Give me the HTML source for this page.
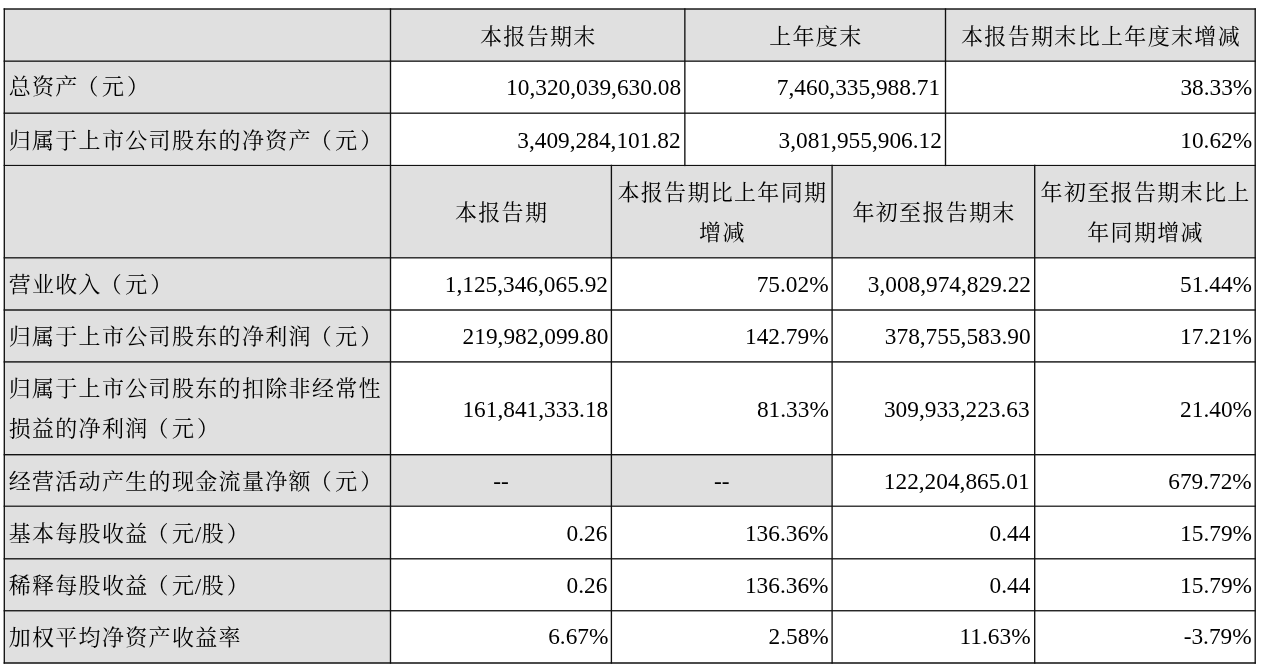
<!DOCTYPE html>
<html lang="zh-CN"><head><meta charset="utf-8"><title>主要会计数据和财务指标</title>
<style>
html,body{margin:0;padding:0;background:#fff;}
body{width:1269px;height:671px;position:relative;overflow:hidden;}
svg.g{position:absolute;left:0;top:0;}
.t{position:absolute;left:0;top:0;width:1269px;height:671px;will-change:transform;}
.c{position:absolute;display:flex;align-items:center;box-sizing:border-box;
 font-family:"Liberation Serif","Noto Serif CJK SC",serif;font-size:23.33px;line-height:40.3px;color:#000;white-space:nowrap;}
.c.l{justify-content:flex-start;}
.c.r{justify-content:flex-end;}
.c.m{justify-content:center;text-align:center;}
.k{font-family:"Noto Serif CJK SC",serif;font-size:22.0px;font-weight:400;letter-spacing:1.33px;position:relative;left:0.66px;top:-1px;line-height:0;}
.lp{position:relative;left:-2.2px;}
.rp{position:relative;left:1.6px;}
.c.m .k{left:0.66px;}
</style></head><body>
<svg class="g" width="1269" height="671" viewBox="0 0 1269 671">
<rect x="4.30" y="9.00" width="386.20" height="52.20" fill="#e0e0e0"/>
<rect x="390.50" y="9.00" width="864.70" height="52.20" fill="#e0e0e0"/>
<rect x="4.30" y="61.20" width="386.20" height="52.00" fill="#e0e0e0"/>
<rect x="4.30" y="113.20" width="386.20" height="52.20" fill="#e0e0e0"/>
<rect x="4.30" y="165.40" width="386.20" height="92.30" fill="#e0e0e0"/>
<rect x="390.50" y="165.40" width="864.70" height="92.30" fill="#e0e0e0"/>
<rect x="4.30" y="257.70" width="386.20" height="52.30" fill="#e0e0e0"/>
<rect x="4.30" y="310.00" width="386.20" height="51.80" fill="#e0e0e0"/>
<rect x="4.30" y="361.80" width="386.20" height="92.80" fill="#e0e0e0"/>
<rect x="4.30" y="454.60" width="386.20" height="51.70" fill="#e0e0e0"/>
<rect x="390.50" y="454.60" width="441.60" height="51.70" fill="#e0e0e0"/>
<rect x="4.30" y="506.30" width="386.20" height="52.40" fill="#e0e0e0"/>
<rect x="4.30" y="558.70" width="386.20" height="51.90" fill="#e0e0e0"/>
<rect x="4.30" y="610.60" width="386.20" height="52.20" fill="#e0e0e0"/>
<rect x="3.62" y="8.290" width="1252.25" height="1.42" fill="#111"/>
<rect x="3.62" y="60.500" width="1252.25" height="1.3" fill="#111"/>
<rect x="3.62" y="112.525" width="1252.25" height="1.31" fill="#111"/>
<rect x="3.62" y="164.890" width="1252.25" height="1.1" fill="#111"/>
<rect x="3.62" y="257.170" width="1252.25" height="1.3" fill="#111"/>
<rect x="3.62" y="309.280" width="1252.25" height="1.44" fill="#111"/>
<rect x="3.62" y="361.200" width="1252.25" height="1.4" fill="#111"/>
<rect x="3.62" y="454.010" width="1252.25" height="1.38" fill="#111"/>
<rect x="3.62" y="505.590" width="1252.25" height="1.22" fill="#111"/>
<rect x="3.62" y="558.135" width="1252.25" height="1.33" fill="#111"/>
<rect x="3.62" y="610.095" width="1252.25" height="1.31" fill="#111"/>
<rect x="3.62" y="662.250" width="1252.25" height="1.5" fill="#111"/>
<rect x="3.62" y="8.32" width="1.35" height="655.35" fill="#111"/>
<rect x="1254.53" y="8.32" width="1.35" height="655.35" fill="#111"/>
<rect x="389.82" y="8.32" width="1.35" height="655.35" fill="#111"/>
<rect x="684.18" y="8.32" width="1.35" height="157.79" fill="#111"/>
<rect x="944.83" y="8.32" width="1.35" height="157.79" fill="#111"/>
<rect x="610.73" y="164.76" width="1.35" height="498.91" fill="#111"/>
<rect x="831.43" y="164.76" width="1.35" height="498.91" fill="#111"/>
<rect x="1034.03" y="164.76" width="1.35" height="498.91" fill="#111"/>
</svg>
<div class="t">
<div class="c m" style="left:391.18px;top:11.00px;width:293.00px;height:52.20px;"><span><span class="k">本报告期末</span></span></div>
<div class="c m" style="left:685.52px;top:11.00px;width:259.30px;height:52.20px;"><span><span class="k">上年度末</span></span></div>
<div class="c m" style="left:946.17px;top:11.00px;width:308.35px;height:52.20px;"><span><span class="k">本报告期末比上年度末增减</span></span></div>
<div class="c l" style="left:7.97px;top:61.50px;width:381.85px;height:52.00px;"><span><span class="k">总资产<span class="lp">（</span>元<span class="rp">）</span></span></span></div>
<div class="c r" style="left:391.18px;top:61.20px;width:289.90px;height:52.00px;"><span>10,320,039,630.08</span></div>
<div class="c r" style="left:685.52px;top:61.20px;width:254.60px;height:52.00px;"><span>7,460,335,988.71</span></div>
<div class="c r" style="left:946.17px;top:61.20px;width:306.15px;height:52.00px;"><span>38.33%</span></div>
<div class="c l" style="left:7.97px;top:114.60px;width:381.85px;height:52.20px;"><span><span class="k">归属于上市公司股东的净资产<span class="lp">（</span>元<span class="rp">）</span></span></span></div>
<div class="c r" style="left:391.18px;top:114.10px;width:289.40px;height:52.20px;"><span>3,409,284,101.82</span></div>
<div class="c r" style="left:685.52px;top:114.10px;width:256.40px;height:52.20px;"><span>3,081,955,906.12</span></div>
<div class="c r" style="left:946.17px;top:114.10px;width:306.05px;height:52.20px;"><span>10.62%</span></div>
<div class="c m" style="left:391.18px;top:166.90px;width:219.55px;height:92.30px;"><span><span class="k">本报告期</span></span></div>
<div class="c m" style="left:612.07px;top:166.90px;width:219.35px;height:92.30px;"><span><span class="k">本报告期比上年同期</span><br><span class="k">增减</span></span></div>
<div class="c m" style="left:832.77px;top:166.90px;width:201.25px;height:92.30px;"><span><span class="k">年初至报告期末</span></span></div>
<div class="c m" style="left:1035.38px;top:166.90px;width:219.15px;height:92.30px;"><span><span class="k">年初至报告期末比上</span><br><span class="k">年同期增减</span></span></div>
<div class="c l" style="left:7.97px;top:258.80px;width:381.85px;height:52.30px;"><span><span class="k">营业收入<span class="lp">（</span>元<span class="rp">）</span></span></span></div>
<div class="c r" style="left:391.18px;top:257.80px;width:216.85px;height:52.30px;"><span>1,125,346,065.92</span></div>
<div class="c r" style="left:612.07px;top:257.80px;width:216.55px;height:52.30px;"><span>75.02%</span></div>
<div class="c r" style="left:832.77px;top:257.80px;width:198.25px;height:52.30px;"><span>3,008,974,829.22</span></div>
<div class="c r" style="left:1035.38px;top:257.80px;width:216.65px;height:52.30px;"><span>51.44%</span></div>
<div class="c l" style="left:7.97px;top:310.90px;width:381.85px;height:51.80px;"><span><span class="k">归属于上市公司股东的净利润<span class="lp">（</span>元<span class="rp">）</span></span></span></div>
<div class="c r" style="left:391.18px;top:309.90px;width:217.25px;height:51.80px;"><span>219,982,099.80</span></div>
<div class="c r" style="left:612.07px;top:309.90px;width:216.55px;height:51.80px;"><span>142.79%</span></div>
<div class="c r" style="left:832.77px;top:309.90px;width:197.85px;height:51.80px;"><span>378,755,583.90</span></div>
<div class="c r" style="left:1035.38px;top:309.90px;width:216.65px;height:51.80px;"><span>17.21%</span></div>
<div class="c l" style="left:7.97px;top:362.50px;width:381.85px;height:92.80px;"><span><span class="k">归属于上市公司股东的扣除非经常性</span><br><span class="k">损益的净利润<span class="lp">（</span>元<span class="rp">）</span></span></span></div>
<div class="c r" style="left:391.18px;top:362.50px;width:217.05px;height:92.80px;"><span>161,841,333.18</span></div>
<div class="c r" style="left:612.07px;top:362.50px;width:216.75px;height:92.80px;"><span>81.33%</span></div>
<div class="c r" style="left:832.77px;top:362.50px;width:196.95px;height:92.80px;"><span>309,933,223.63</span></div>
<div class="c r" style="left:1035.38px;top:362.50px;width:216.65px;height:92.80px;"><span>21.40%</span></div>
<div class="c l" style="left:7.97px;top:455.90px;width:381.85px;height:51.70px;"><span><span class="k">经营活动产生的现金流量净额<span class="lp">（</span>元<span class="rp">）</span></span></span></div>
<div class="c m" style="left:391.18px;top:455.40px;width:219.55px;height:51.70px;"><span>--</span></div>
<div class="c m" style="left:612.07px;top:455.40px;width:219.35px;height:51.70px;"><span>--</span></div>
<div class="c r" style="left:832.77px;top:455.40px;width:196.85px;height:51.70px;"><span>122,204,865.01</span></div>
<div class="c r" style="left:1035.38px;top:455.40px;width:216.45px;height:51.70px;"><span>679.72%</span></div>
<div class="c l" style="left:7.97px;top:507.80px;width:381.85px;height:52.40px;"><span><span class="k">基本每股收益<span class="lp">（</span>元</span>/<span class="k">股<span class="rp">）</span></span></span></div>
<div class="c r" style="left:391.18px;top:507.10px;width:216.25px;height:52.40px;"><span>0.26</span></div>
<div class="c r" style="left:612.07px;top:507.10px;width:216.45px;height:52.40px;"><span>136.36%</span></div>
<div class="c r" style="left:832.77px;top:507.10px;width:197.65px;height:52.40px;"><span>0.44</span></div>
<div class="c r" style="left:1035.38px;top:507.10px;width:216.65px;height:52.40px;"><span>15.79%</span></div>
<div class="c l" style="left:7.97px;top:559.80px;width:381.85px;height:51.90px;"><span><span class="k">稀释每股收益<span class="lp">（</span>元</span>/<span class="k">股<span class="rp">）</span></span></span></div>
<div class="c r" style="left:391.18px;top:559.50px;width:216.25px;height:51.90px;"><span>0.26</span></div>
<div class="c r" style="left:612.07px;top:559.50px;width:216.45px;height:51.90px;"><span>136.36%</span></div>
<div class="c r" style="left:832.77px;top:559.50px;width:197.65px;height:51.90px;"><span>0.44</span></div>
<div class="c r" style="left:1035.38px;top:559.50px;width:216.65px;height:51.90px;"><span>15.79%</span></div>
<div class="c l" style="left:7.97px;top:612.00px;width:381.85px;height:52.20px;"><span><span class="k">加权平均净资产收益率</span></span></div>
<div class="c r" style="left:391.18px;top:610.20px;width:217.25px;height:52.20px;"><span>6.67%</span></div>
<div class="c r" style="left:612.07px;top:610.20px;width:216.75px;height:52.20px;"><span>2.58%</span></div>
<div class="c r" style="left:832.77px;top:610.20px;width:197.85px;height:52.20px;"><span>11.63%</span></div>
<div class="c r" style="left:1035.38px;top:610.20px;width:216.35px;height:52.20px;"><span>-3.79%</span></div>
</div>
</body></html>
